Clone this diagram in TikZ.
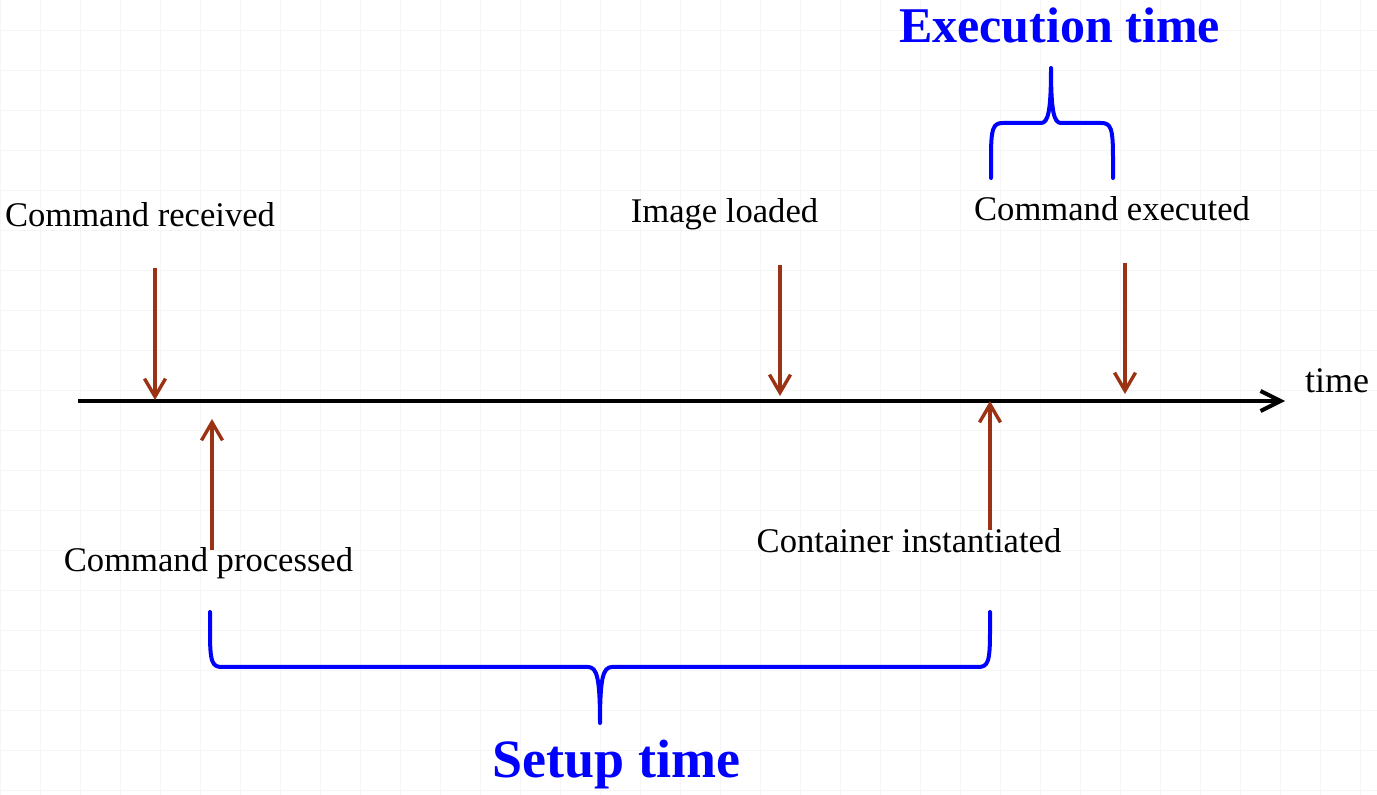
\documentclass[tikz,border=0pt]{standalone}
\usepackage{fontspec}
\setmainfont{Liberation Serif}
\usepackage{tikz}
\usetikzlibrary{arrows.meta}

\definecolor{evbrown}{HTML}{9C3214}
\tikzset{
  gridline/.style={draw=black!4, line width=0.7pt},
  axis/.style={line width=2pt, -{Straight Barb[length=10pt,width=10pt]}},
  event/.style={draw=evbrown, line width=1.7pt, -{Straight Barb[length=9pt,width=10.5pt]}},
  brace/.style={draw=blue, line width=2pt, line cap=round, line join=round},
  lbl/.style={font=\fontsize{17.3}{20}\selectfont, inner sep=0pt, anchor=base},
  span/.style={font=\bfseries\fontsize{25}{30}\selectfont, text=blue, inner sep=0pt, anchor=base},
}

\begin{document}
\begin{tikzpicture}[x=0.5pt,y=-0.5pt]
\useasboundingbox (0,0) rectangle (1377,795);
% paper grid
\foreach \gx in {0,...,34}
  \draw[gridline] (0.7+40*\gx,0) -- (0.7+40*\gx,795);
\foreach \gy in {0,...,19}
  \draw[gridline] (0,30.7+40*\gy) -- (1377,30.7+40*\gy);

% time axis
\coordinate (start) at (78,401);
\coordinate (end) at (1285,401);
\draw[axis] (start) -- (end);
\node[lbl, font=\fontsize{18}{20}\selectfont] (time) at (1337,393) {time};

% events
\node[lbl] (received)     at (140,227)   {Command received};
\node[lbl] (loaded)       at (724.5,223) {Image loaded};
\node[lbl] (executed)     at (1112,221)  {Command executed};
\node[lbl] (processed)    at (208.5,572) {Command processed};
\node[lbl] (instantiated) at (909,553)   {Container instantiated};

\coordinate (aReceived) at (155,268);   \coordinate (tReceived) at (155,400);
\coordinate (aLoaded) at (780,265);     \coordinate (tLoaded) at (780,396);
\coordinate (aExecuted) at (1125,263);  \coordinate (tExecuted) at (1125,394);
\coordinate (aProcessed) at (212,550);  \coordinate (tProcessed) at (212,419);
\coordinate (aInst) at (990,530);       \coordinate (tInst) at (990,401);
\draw[event] (aReceived) -- (tReceived);
\draw[event] (aLoaded) -- (tLoaded);
\draw[event] (aExecuted) -- (tExecuted);
\draw[event] (aProcessed) -- (tProcessed);
\draw[event] (aInst) -- (tInst);

% setup brace
\draw[brace] (210,612) -- (210,632) .. controls (210,662) and (212,667) .. (222,667)
  -- (588,667) .. controls (597,667) and (600,678) .. (600,723)
  .. controls (600,678) and (603,667) .. (612,667)
  -- (978,667) .. controls (988,667) and (990,662) .. (990,632) -- (990,612);
\node[span, font=\bfseries\fontsize{27}{30}\selectfont] (setup) at (616.5,778) {Setup time};

% execution brace
\draw[brace] (991,178) -- (991,158) .. controls (991,128) and (993,123) .. (1003,123)
  -- (1041,123) .. controls (1048,123) and (1051,112) .. (1051,68)
  .. controls (1051,112) and (1054,123) .. (1061,123)
  -- (1101,123) .. controls (1111,123) and (1113,128) .. (1113,158) -- (1113,178);
\node[span] (exec) at (1059.5,43) {Execution time};
\end{tikzpicture}
\end{document}
